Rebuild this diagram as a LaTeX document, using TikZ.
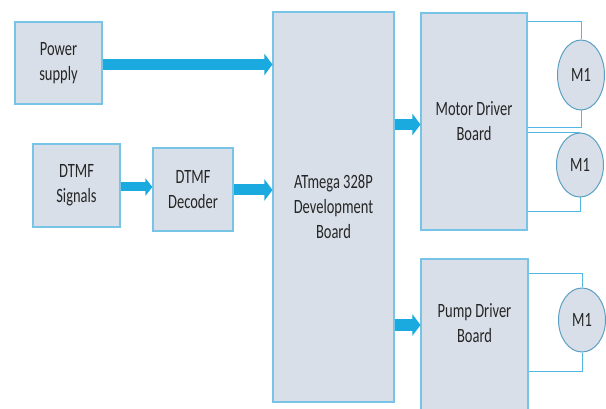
\documentclass[tikz,border=0pt]{standalone}
\usepackage{fontspec}
\usepackage{graphicx}
\setmainfont{Carlito}
\usetikzlibrary{shapes.geometric,arrows.meta}
\definecolor{boxfill}{RGB}{217,223,232}
\definecolor{boxline}{RGB}{120,196,230}
\definecolor{ellline}{RGB}{90,160,195}
\definecolor{wirec}{RGB}{80,185,230}
\definecolor{arrowc}{RGB}{27,170,224}
\definecolor{txt}{RGB}{38,38,38}
\newcommand\vs[1]{\scalebox{1}[1.4]{#1}}
\tikzset{
  blk/.style={draw=boxline, line width=1.1pt, fill=boxfill, inner sep=0pt, align=center,
    text=txt, font=\fontsize{14.5}{25}\selectfont},
  motor/.style={ellipse, draw=ellline, line width=1pt, fill=boxfill, inner sep=0pt,
    text=txt, font=\fontsize{14.5}{25}\selectfont},
  lbl/.style={align=center, text=txt, font=\fontsize{14.5}{25}\selectfont, inner sep=0pt},
  wire/.style={draw=wirec, line width=1pt},
  bigarrow/.style={draw=arrowc, line width=11pt, -{Triangle[length=8pt,width=21pt]}},
  smallarrow/.style={draw=arrowc, line width=9pt, -{Triangle[length=7pt,width=17pt]}},
}
\begin{document}
\begin{tikzpicture}[x=1pt,y=-1pt]
\useasboundingbox[fill=white] (0,0) rectangle (606,409);
\node[blk, minimum width=87pt, minimum height=82pt] (ps) at (58.5,63) {\vs{Power}\\\vs{supply}};
\node[blk, minimum width=87pt, minimum height=83pt] (sig) at (76.5,185.5) {\vs{DTMF}\\\vs{Signals}};
\node[blk, minimum width=80pt, minimum height=83pt] (dec) at (193,189.5) {\vs{DTMF}\\\vs{Decoder}};
\node[blk, minimum width=121pt, minimum height=390pt] (atm) at (333.5,207) {\vs{ATmega 328P}\\\vs{Development}\\\vs{Board}};
\node[blk, minimum width=106pt, minimum height=217pt] (mdb) at (474,121.5) {\vs{Motor Driver}\\\vs{Board}};
\node[blk, minimum width=107pt, minimum height=160pt] (pdb) at (474.5,339) {};
\node[lbl] (pdbl) at (474.5,323) {\vs{Pump Driver}\\\vs{Board}};
\node[motor, minimum width=47pt, minimum height=70pt] (m1) at (581,75) {\vs{M1}};
\node[motor, minimum width=47pt, minimum height=64pt] (m2) at (580,165) {\vs{M1}};
\node[motor, minimum width=47pt, minimum height=64pt] (m3) at (582,320) {\vs{M1}};
% arrows
\draw[bigarrow] (ps.east |- 0,64.5) -- (atm.west |- 0,64.5);
\draw[smallarrow] (sig.east |- 0,187) -- (dec.west |- 0,187);
\draw[bigarrow] (dec.east |- 0,190) -- (atm.west |- 0,190);
\draw[bigarrow] (atm.east |- 0,124.5) -- (mdb.west |- 0,124.5);
\draw[bigarrow] (atm.east |- 0,325) -- (pdb.west |- 0,325);
% wires
\draw[wire] (mdb.east |- 0,22) -| (m1.north);
\draw[wire] (m1.south) |- (mdb.east |- 0,128);
\draw[wire] (mdb.east |- m2.north) -- (m2.north);
\draw[wire] (m2.south) |- (mdb.east |- 0,212);
\draw[wire] (pdb.east |- 0,274) -| (m3.north);
\draw[wire] (m3.south) |- (pdb.east |- 0,371);
\end{tikzpicture}
\end{document}
